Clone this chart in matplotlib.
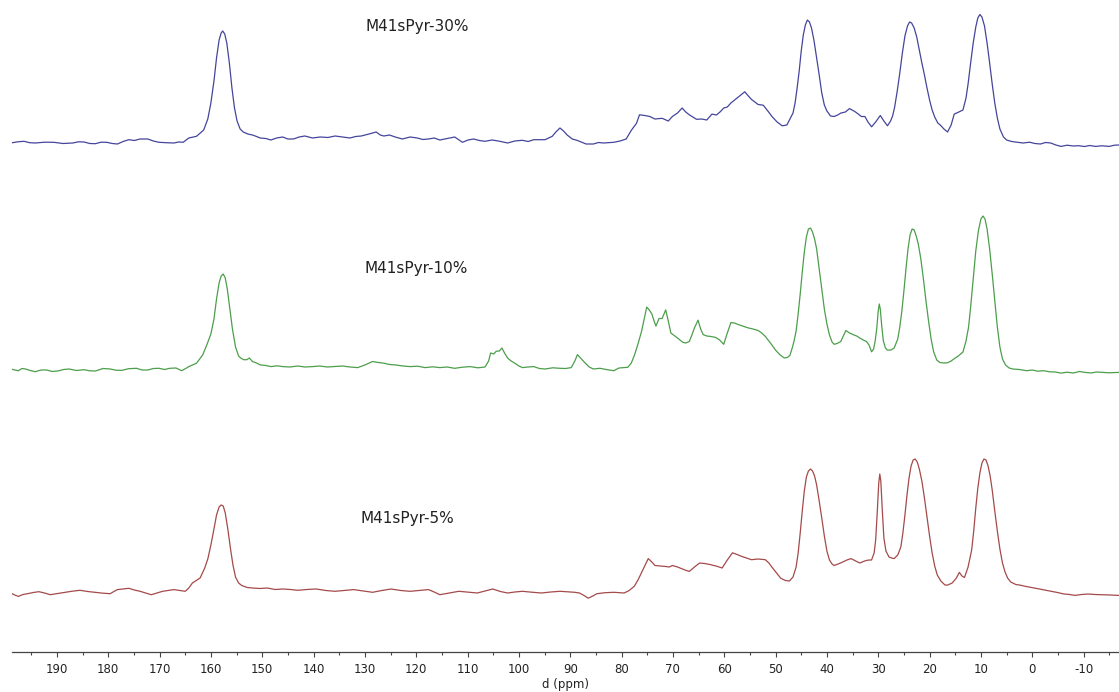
import matplotlib
matplotlib.use("Agg")
import matplotlib.pyplot as plt
from matplotlib.ticker import MultipleLocator

# ---- data: (chemical shift in ppm, intensity above the trace's own baseline) ----
trace_30 = [(199.0,0),(197.6,1.2),(196.4,1.7),(195.3,0.3),(194.2,0),(192.4,0.8),(190.6,0.7),(188.8,-0.5),
    (186.9,0),(185.8,1.2),(184.7,1),(183.6,-0.5),(182.5,-0.7),(181.4,0.8),(180.3,0.7),(179.2,-0.5),
    (178.2,-1),(177.1,1.5),(176.0,3.3),(174.9,2.5),(173.8,4),(172.3,4),(171.2,2),(170.1,0.7),(168.7,0.3),
    (167.2,0),(166.3,1),(165.4,0.7),(164.3,5),(162.8,6.7),(161.4,13),(160.6,24),(160.0,40),(159.4,62),
    (158.9,85),(158.4,103),(158.0,110),(157.7,112),(157.3,109),(156.9,100),(156.4,80),(155.9,55),
    (155.4,35),(154.9,22),(154.3,14),(153.7,11),(152.8,9),(151.9,8),(151.1,6.5),(150.4,5),(149.3,4.5),
    (148.3,3),(147.2,5),(146.0,6),(145.0,4),(143.9,4),(142.8,6),(141.7,7),(140.2,5),(138.7,6),(137.2,5.5),
    (135.8,7),(134.3,6),(132.9,5),(131.8,6.5),(130.7,7),(129.2,9),(127.8,11),(127.0,8),(126.3,7),(125.2,8),
    (124.1,6),(122.7,4),(121.2,6),(119.8,5),(118.7,3.5),(117.6,4),(116.5,5),(115.4,3),(114.0,4.5),(112.5,6),
    (111.0,0.7),(109.9,3),(108.8,4),(107.7,2.5),(106.6,1.7),(105.2,3),(103.7,1.7),(102.2,0),(100.8,2),
    (99.3,2.7),(98.2,1.5),(97.1,3.3),(94.9,3.3),(93.5,6.7),(92.8,11),(92.0,15),(91.3,12),(90.6,8),(89.6,4),
    (88.7,2.7),(87.8,0.8),(86.9,-1),(85.5,-1),(84.5,0.5),(83.5,0),(81.5,0.7),(80.3,2),(79.1,4),(78.1,12.7),
    (77.1,19.6),(76.5,28.2),(75.5,27.5),(74.5,26.5),(73.5,24),(72.1,24.7),(70.9,22),(70.1,26.5),(69.1,30),
    (68.2,35),(67.5,31),(66.8,28.2),(65.4,23.7),(64.4,24),(63.4,23),(62.4,28.9),(61.5,28),(60.7,31.6),
    (60.1,35),(59.4,36),(58.7,40),(57.4,45.4),(56.0,51.2),(55.3,47),(54.7,43.6),(53.4,38.5),(52.4,37.8),
    (51.5,32),(50.7,26.5),(49.7,21),(48.7,17.2),(47.8,18),(47.3,23),(46.6,30),(46.2,40),(45.8,55),(45.4,72),
    (45.0,92),(44.6,108),(44.2,118),(43.8,123),(43.4,121),(43.0,115),(42.5,102),(42.0,85),(41.5,68),
    (41.0,50),(40.5,38),(40.0,32),(39.3,27),(38.6,26.5),(37.9,28),(37.3,29.9),(36.4,31),(35.6,34.4),
    (34.6,31.6),(33.9,29),(33.3,26.5),(32.6,26.5),(32.0,21),(31.3,16.2),(30.5,21),(29.6,27.5),(28.9,22),
    (28.2,17.2),(27.6,22),(27.2,27),(26.8,36),(26.3,52),(25.8,70),(25.3,90),(24.8,107),(24.3,117),
    (23.9,121),(23.5,120),(23.0,115),(22.5,106),(22.0,93),(21.5,80),(21.0,68),(20.5,55),(20.0,43),
    (19.5,33),(19.0,26),(18.4,20),(17.9,17.9),(17.2,14),(16.5,11),(15.8,18),(15.2,28.9),(14.3,31),
    (13.5,33),(12.9,45),(12.5,59),(12.0,80),(11.5,100),(11.0,116),(10.6,125),(10.2,128.5),(9.8,126),
    (9.3,117),(8.8,100),(8.3,80),(7.8,59),(7.3,40),(6.8,25),(6.3,14),(5.6,6),(5.0,3),(4.0,1.5),(3.0,0.8),
    (1.8,0),(0.5,0.8),(-0.5,-0.5),(-1.6,-1),(-2.6,0.5),(-3.6,0),(-4.6,-2),(-5.6,-3.4),(-6.8,-2.2),
    (-8.0,-3),(-9.0,-2.7),(-10.2,-3.5),(-11.2,-2.5),(-12.3,-3.4),(-13.6,-2.8),(-15.0,-3.4),(-16.0,-2.2),
    (-16.8,-2)]

trace_10 = [(199.0,0),(198.2,-1),(197.5,-1.7),(196.8,0.5),(196.1,0),(195.2,-1.5),(194.2,-2.7),(193.1,-1),
    (192.0,-1),(190.9,-2.5),(189.8,-2),(188.7,-0.5),(187.6,0),(186.2,-1.5),(184.7,-0.7),(183.6,-1.8),
    (182.5,-2),(181.0,0.5),(179.6,0),(178.5,-1.2),(177.4,-1.4),(176.0,0.3),(174.5,0.7),(173.4,-1),
    (172.3,-1),(171.2,0.5),(170.1,0.7),(169.0,-0.5),(168.0,0.7),(166.8,1),(165.7,-1.7),(164.9,0.5),
    (164.3,2.4),(162.8,5.8),(161.6,14),(160.8,24),(160.0,35),(159.4,50),(158.9,70),(158.4,86),(158.0,93),
    (157.6,95),(157.2,91),(156.8,80),(156.3,60),(155.8,40),(155.2,22),(154.6,13),(154.2,11),(153.6,9.3),
    (153.0,9.3),(152.5,11),(151.9,7.5),(151.1,6),(150.4,4.1),(149.3,3.5),(148.3,2.4),(147.1,3.2),(146.0,2.4),
    (144.6,2),(143.1,3),(141.7,2),(140.2,2.4),(138.8,3),(137.3,2),(135.8,2.5),(134.4,3),(132.9,2),(131.4,1.4),
    (130.0,4),(128.5,7.5),(127.4,6.5),(126.3,5.8),(125.2,4.5),(124.1,4.1),(122.6,3),(121.2,2.4),(119.7,2.8),
    (118.3,1.4),(116.8,2.2),(115.4,1.4),(114.0,2),(112.5,0.7),(111.0,1.8),(109.5,2.4),(108.0,1.2),(106.6,2),
    (105.9,8),(105.5,16),(104.9,15),(104.4,17.8),(103.8,18),(103.3,21),(102.8,16),(102.2,11),(101.5,8),
    (100.8,5.8),(100.0,3),(99.3,1.4),(98.2,2),(97.1,2.4),(96.0,0.5),(94.9,0),(93.4,1.2),(92.0,0.7),
    (90.9,0.5),(89.8,1.4),(89.1,8),(88.6,14.4),(88.0,11),(87.1,6),(86.3,2),(85.5,0),(84.2,0.7),(83.0,-0.5),
    (81.5,-1.7),(80.5,1),(78.8,1.7),(78.1,6),(77.5,13.7),(76.8,25),(76.1,37.8),(75.6,50),(75.1,61.9),
    (74.6,59),(74.1,55),(73.6,47),(73.3,43),(72.7,50.5),(72.1,50.5),(71.4,59.1),(70.9,48),(70.4,36),
    (69.1,31),(68.1,26.8),(67.5,26),(66.8,27.5),(66.3,34),(65.8,41.2),(65.1,48.8),(64.6,40),(64.1,34.4),
    (63.4,33),(62.7,32.6),(61.7,31.6),(60.9,29),(60.1,24.7),(59.4,36),(58.7,46.4),(58.0,46),(57.4,44.7),
    (56.4,43),(55.4,41.2),(54.4,40),(53.4,38.5),(52.7,36),(52.0,32.6),(51.0,26),(50.0,18.9),(49.1,14),
    (48.3,11),(47.7,11.5),(47.2,13.7),(46.7,22),(46.4,28),(46.0,38),(45.6,55),(45.2,75),(44.8,97),
    (44.4,117),(44.0,132),(43.6,140),(43.2,141),(42.8,137),(42.4,130),(42.0,120),(41.5,100),(41.0,80),
    (40.5,60),(40.0,45),(39.5,34),(39.0,27),(38.6,24.7),(38.0,25.5),(37.3,27.5),(36.8,33),(36.3,38.5),
    (35.6,36),(34.9,34.4),(34.2,33),(33.6,31),(32.9,29),(32.3,27.5),(31.8,24),(31.3,17.2),(30.9,20),
    (30.6,28),(30.3,40),(30.0,58),(29.8,65),(29.6,60),(29.3,42),(29.0,28),(28.6,21),(28.2,18.9),(27.5,19),
    (26.9,21),(26.2,30),(25.8,42),(25.4,58),(25.0,78),(24.6,100),(24.2,120),(23.8,134),(23.4,140),
    (23.0,139),(22.6,133),(22.2,125),(21.7,110),(21.2,90),(20.7,68),(20.2,48),(19.7,30),(19.2,17),
    (18.6,9),(18.0,6.5),(17.2,6),(16.5,6.2),(15.8,8),(15.2,10.3),(14.4,13),(13.5,17),(12.9,28),(12.4,42),
    (12.0,62),(11.5,90),(11.0,118),(10.5,138),(10.0,150),(9.6,153),(9.2,150),(8.8,140),(8.3,120),(7.8,95),
    (7.3,68),(6.8,42),(6.3,22),(5.8,10),(5.2,4),(4.5,1),(3.8,0),(2.5,-0.5),(1.1,-1.7),(0.0,-1),(-1.1,-2.2),
    (-2.2,-1.7),(-3.4,-2.8),(-4.5,-3),(-5.6,-4.1),(-6.8,-3.2),(-8.0,-4),(-9.2,-2.5),(-10.3,-3.4),
    (-11.5,-4),(-12.5,-3),(-13.6,-3.4),(-15.0,-3.8),(-16.8,-3.4)]

trace_5 = [(199.0,0),(198.2,-2),(197.5,-3.4),(196.6,-1.5),(195.7,-0.7),(194.6,0.5),(193.5,1.3),(192.4,0),
    (191.3,-1.7),(189.8,-0.5),(188.4,0.7),(187.0,1.8),(185.5,2.7),(184.0,1.5),(182.5,0.7),(181.0,-0.2),
    (179.6,-0.7),(178.9,1.5),(178.2,3.4),(177.1,4),(176.0,4.7),(174.9,3),(173.8,1.7),(172.7,0),(171.6,-1.7),
    (170.5,0),(169.4,1.7),(168.3,2.5),(167.2,3.4),(166.1,2.5),(165.0,1.7),(164.3,5),(163.6,10),(162.1,15),
    (161.2,25),(160.6,34),(160.0,48),(159.4,64),(158.9,78),(158.4,86),(158.0,88),(157.6,87),(157.2,80),
    (156.7,64),(156.2,45),(155.7,28),(155.2,16),(154.6,10),(154.0,7.5),(152.9,5.5),(151.9,5),(150.5,4.5),
    (149.0,5),(147.5,3.5),(146.0,4),(144.5,3.5),(143.1,2.7),(141.3,3.5),(139.5,4),(137.6,2.5),(135.8,1.7),
    (134.0,2.5),(132.2,3.4),(130.3,2),(128.5,0.7),(126.7,2.5),(124.9,4),(123.0,2.5),(121.2,1.7),(119.4,2.5),
    (117.6,3.4),(116.5,1),(115.4,-1.7),(113.5,0),(111.7,1.7),(109.9,0.8),(108.1,0),(106.6,2),(105.1,4),
    (103.6,1.5),(102.2,0),(100.8,1),(99.3,1.7),(97.5,0.8),(95.6,0),(93.8,1),(92.0,1.7),(90.5,1.2),(89.1,0.7),
    (88.2,0),(87.3,-2.5),(86.5,-5.2),(85.6,-3),(84.8,-0.7),(83.2,0.3),(81.5,0.7),(79.5,0),(78.5,2.5),
    (77.5,6.9),(76.8,13),(76.1,20.6),(75.4,28),(74.8,34.4),(74.1,31),(73.5,27.5),(72.4,27),(71.4,26.5),
    (70.7,26),(70.1,27.5),(69.1,26),(68.1,24),(67.4,22.5),(66.8,21.6),(65.8,26),(64.8,30),(63.8,29.5),
    (62.8,28.5),(61.6,27),(60.4,25),(59.4,33),(58.4,40.2),(57.5,38.5),(56.7,36.8),(55.7,35),(54.7,33.3),
    (53.4,34),(52.0,33.3),(51.3,30),(50.7,25.8),(49.8,20),(49.0,14.8),(48.1,12.5),(47.3,12),(46.6,16),
    (46.0,26),(45.6,40),(45.2,60),(44.8,82),(44.4,102),(44.0,116),(43.6,122),(43.2,124),(42.8,122),
    (42.4,117),(42.0,108),(41.5,92),(41.0,75),(40.5,57),(40.0,42),(39.5,33),(39.0,29),(38.6,27.5),(37.8,29),
    (36.9,31),(36.1,33),(35.3,34.4),(34.4,32),(33.6,30),(32.9,31.5),(32.3,32.6),(31.7,33),(31.3,33),
    (30.8,40),(30.5,53),(30.2,80),(29.9,110),(29.7,119),(29.5,112),(29.2,82),(28.9,55),(28.5,42),(27.9,36),
    (27.4,35),(26.9,34.4),(26.2,38),(25.6,46),(25.2,60),(24.8,78),(24.4,98),(24.0,115),(23.6,127),
    (23.2,133),(22.8,134),(22.4,131),(22.0,124),(21.5,112),(21.0,95),(20.5,76),(20.0,57),(19.5,40),
    (19.0,27),(18.5,18),(17.8,12),(17.0,8),(16.5,7.9),(15.6,10),(14.8,14.8),(14.2,20.6),(13.7,17),
    (13.2,15.5),(12.5,26),(11.8,43),(11.4,62),(11.0,85),(10.6,105),(10.2,120),(9.8,130),(9.4,134),
    (9.0,133),(8.6,127),(8.2,117),(7.8,103),(7.3,82),(6.8,62),(6.3,44),(5.8,30),(5.3,21),(4.8,15),(4.2,11),
    (3.2,8.5),(2.4,7.9),(1.2,6.5),(-0.2,5.2),(-1.9,3.5),(-3.6,1.7),(-4.9,0.5),(-6.2,-1),(-7.3,-1.5),
    (-8.3,-2.4),(-9.6,-1.5),(-10.9,-1),(-12.2,-1.5),(-13.6,-1.7),(-15.2,-2),(-16.8,-2.4)]

sample_labels = ["M41sPyr-30%", "M41sPyr-10%", "M41sPyr-5%"]
tick_values = [190, 180, 170, 160, 150, 140, 130, 120, 110, 100, 90, 80, 70, 60, 50, 40, 30, 20, 10, 0, -10]

# ---- layout / styling ----
W, H = 1119, 692
AXIS_Y = 652  # pixel row of the axis line
fig = plt.figure(figsize=(W / 100, H / 100), dpi=100)
ax = fig.add_axes([11.7 / W, (H - AXIS_Y) / H, 1 - 11.7 / W, AXIS_Y / H])

offsets = [509, 283, 59]
colors = ["#45459c", "#4c9e4c", "#a44a4a"]
series = [trace_30, trace_10, trace_5]
label_pos = [(119.8, 625), (120.1, 384), (121.7, 133)]

for tr, off, c, lab, (lx, ly) in zip(series, offsets, colors, sample_labels, label_pos):
    xs = [p[0] for p in tr]
    ys = [p[1] + off for p in tr]
    ax.plot(xs, ys, color=c, lw=0.9, solid_joinstyle="round")
    ax.text(lx, ly, lab, ha="center", va="center", fontsize=11, color="#222222")

ax.set_xlim(198.8, -16.9)
ax.set_ylim(0, AXIS_Y)
for s in ["top", "left", "right"]:
    ax.spines[s].set_visible(False)
ax.spines["bottom"].set_color("#444444")
ax.spines["bottom"].set_linewidth(0.9)
ax.set_yticks([])
ax.set_xticks(tick_values)
ax.set_xticklabels([str(t) for t in tick_values])
ax.xaxis.set_minor_locator(MultipleLocator(5))
ax.tick_params(axis="x", which="major", direction="out", length=3.6, width=0.8,
               color="#444444", labelsize=8.5, pad=4.5, labelcolor="#222222")
ax.tick_params(axis="x", which="minor", direction="out", length=2.0, width=0.8, color="#444444")
ax.set_xlabel("d (ppm)", fontsize=8.5, labelpad=1, color="#222222")

fig.savefig("out.png", dpi=100)
